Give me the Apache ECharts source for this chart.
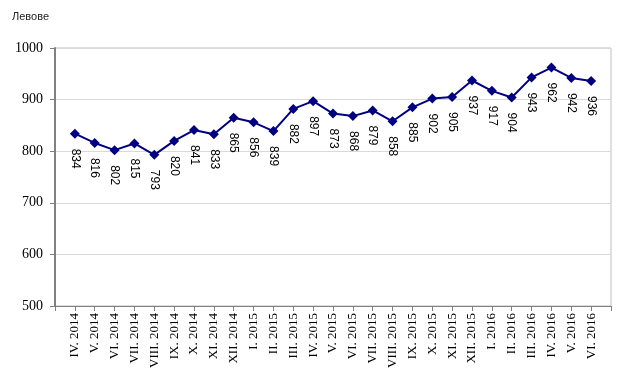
<!DOCTYPE html>
<html>
<head>
<meta charset="utf-8">
<script src="https://cdn.jsdelivr.net/npm/echarts@6/dist/echarts.min.js"></script>
<style>html,body{margin:0;padding:0;background:#fff;}#c{width:630px;height:389px;}</style>
</head>
<body>
<div id="c"></div>
<script>
var unitLabel = 'Левове';
var categories = ['IV. 2014','V. 2014','VI. 2014','VII. 2014','VIII. 2014','IX. 2014','X. 2014','XI. 2014','XII. 2014',
  'I. 2015','II. 2015','III. 2015','IV. 2015','V. 2015','VI. 2015','VII. 2015','VIII. 2015','IX. 2015','X. 2015','XI. 2015','XII. 2015',
  'I. 2016','II. 2016','III. 2016','IV. 2016','V. 2016','VI. 2016'];
var values = [834,816,802,815,793,820,841,833,865,856,839,882,897,873,868,879,858,885,902,905,937,917,904,943,962,942,936];
var yMin = 500, yMax = 1000, yStep = 100;

var axisCats = [''].concat(categories).concat(['']);
var seriesData = ['-'].concat(values).concat(['-']);

var chart = echarts.init(document.getElementById('c'));
chart.setOption({
  animation: false,
  backgroundColor: '#fff',
  title: {
    text: unitLabel, left: 7, top: 6,
    textStyle: {fontFamily: 'Liberation Sans', fontSize: 11, fontWeight: 'normal', color: '#222'}
  },
  grid: {left: 55, right: 19, top: 48, bottom: 83, show: true, borderColor: '#bfbfbf', borderWidth: 1, backgroundColor: 'transparent'},
  xAxis: {
    type: 'category', data: axisCats, boundaryGap: false,
    axisLine: {lineStyle: {color: '#808080', width: 1}},
    axisTick: {show: true, length: 5, inside: false, lineStyle: {color: '#808080'}, alignWithLabel: true},
    axisLabel: {interval: 0, rotate: 90, margin: 7, fontFamily: 'Liberation Serif', fontSize: 13, color: '#000'},
    splitLine: {show: false}
  },
  yAxis: {
    type: 'value', min: yMin, max: yMax, interval: yStep,
    axisLine: {show: true, lineStyle: {color: '#808080', width: 2}},
    axisTick: {show: true, length: 5, lineStyle: {color: '#808080'}},
    axisLabel: {margin: 12, fontFamily: 'Liberation Serif', fontSize: 14, color: '#000',
      formatter: function (v) { return String(v); }},
    splitLine: {show: true, lineStyle: {color: '#d9d9d9', width: 1}}
  },
  series: [{
    type: 'line', data: seriesData,
    symbol: 'diamond', symbolSize: 10,
    lineStyle: {color: '#000080', width: 2},
    itemStyle: {color: '#000080'},
    label: {
      show: true, position: 'bottom', distance: 10, rotate: -90,
      align: 'left', verticalAlign: 'middle',
      fontFamily: 'Liberation Sans', fontSize: 12, color: '#000'
    }
  }]
});
</script>
</body>
</html>
